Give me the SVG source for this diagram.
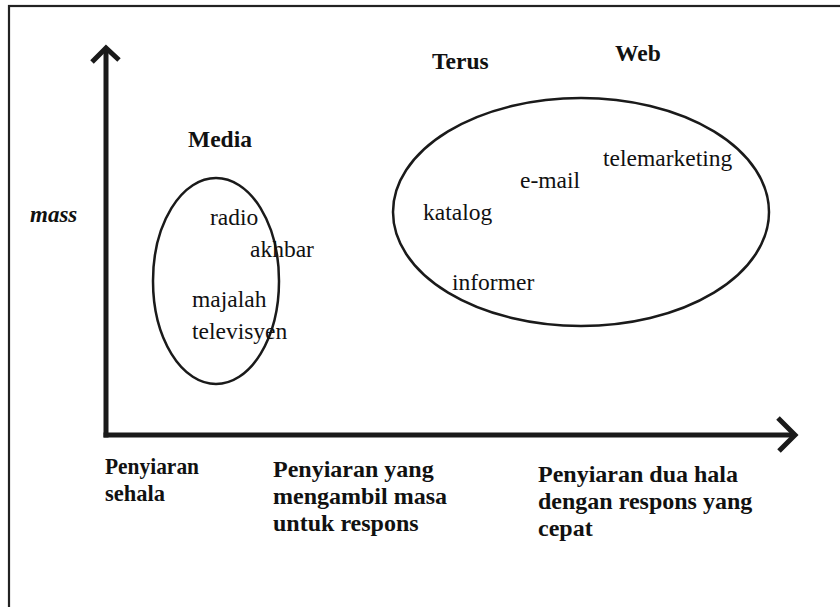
<svg xmlns="http://www.w3.org/2000/svg" width="840" height="607" viewBox="0 0 840 607">
  <style>
    .b { font-weight: bold; }
    .i { font-style: italic; }
    .lbl { font-size: 24px; font-weight: bold; }
    .axis { stroke: #1a1a1a; stroke-width: 5; fill: none; stroke-linecap: butt; stroke-linejoin: miter; }
    .ell { stroke: #1a1a1a; stroke-width: 2.5; fill: none; }
  </style>
  <rect x="0" y="0" width="840" height="607" fill="#ffffff"/>
  <rect id="frame" x="9" y="6" width="850" height="620" fill="none" stroke="#222" stroke-width="2.2"/>

  <g id="connectors">
    <line class="axis" x1="106" y1="437.5" x2="106" y2="50"/>
    <polyline class="axis" points="92,62 106,48 119,60"/>
    <line class="axis" x1="103.5" y1="435" x2="794" y2="435"/>
    <polyline class="axis" points="778,418 795,435 779,451"/>
  </g>

  <g font-family="'Liberation Serif', 'DejaVu Serif', serif" font-size="23.5" fill="#111">
    <g id="axis-y-label">
      <text class="b i" x="30" y="222" font-size="23">mass</text>
    </g>

    <g id="media">
      <text class="b" x="188" y="147">Media</text>
      <ellipse class="ell" cx="216" cy="281" rx="63" ry="103"/>
      <text x="210" y="225">radio</text>
      <text x="250" y="257">akhbar</text>
      <text x="192" y="307">majalah</text>
      <text x="192" y="339">televisyen</text>
    </g>

    <g id="terus-web">
      <text class="b" x="432" y="69">Terus</text>
      <text class="b" x="615" y="61">Web</text>
      <ellipse class="ell" cx="581" cy="212" rx="188" ry="114"/>
      <text x="603" y="166">telemarketing</text>
      <text x="520" y="188">e-mail</text>
      <text x="423" y="220">katalog</text>
      <text x="452" y="290">informer</text>
    </g>

    <g id="label-sehala">
      <text class="lbl" x="105" y="474" textLength="94" lengthAdjust="spacingAndGlyphs">Penyiaran</text>
      <text class="lbl" x="105" y="501" textLength="60" lengthAdjust="spacingAndGlyphs">sehala</text>
    </g>
    <g id="label-masa">
      <text class="lbl" x="273" y="477">Penyiaran yang</text>
      <text class="lbl" x="273" y="504">mengambil masa</text>
      <text class="lbl" x="273" y="531">untuk respons</text>
    </g>
    <g id="label-cepat">
      <text class="lbl" x="538" y="482">Penyiaran dua hala</text>
      <text class="lbl" x="538" y="509">dengan respons yang</text>
      <text class="lbl" x="538" y="536">cepat</text>
    </g>
  </g>
</svg>
